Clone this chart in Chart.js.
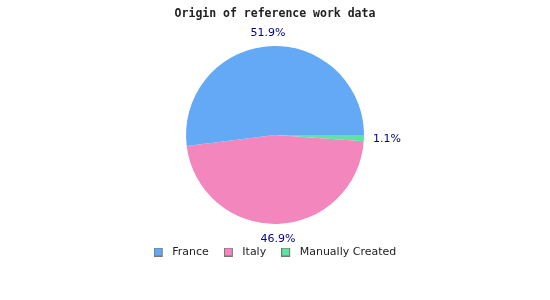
<!DOCTYPE html>
<html>
<head>
<meta charset="utf-8">
<script src="https://cdn.jsdelivr.net/npm/chart.js@4"></script>
<style>
  html, body { margin: 0; padding: 0; background: #fff; }
  #wrap { width: 550px; height: 300px; }
</style>
</head>
<body>
<div id="wrap"><canvas id="originChart" width="550" height="300"></canvas></div>
<script>
const categories = ["France", "Italy", "Manually Created"];
const shares = [51.9, 46.9, 1.1];
const colors = ["#63a9f5", "#f386bc", "#5ee3a2"];

// slices go counter-clockwise from 3 o'clock in the original, so feed them reversed
const order = [2, 1, 0];

function legendSwatch(color) {
  const c = document.createElement("canvas");
  c.width = 13;
  c.height = 9;
  const g = c.getContext("2d");
  g.fillStyle = color;
  g.fillRect(0.5, 0.5, 8, 8);
  g.strokeStyle = "#777";
  g.lineWidth = 1;
  g.strokeRect(0.5, 0.5, 8, 8);
  return c;
}

const pctLabels = {
  id: "pctLabels",
  afterDatasetsDraw(chart) {
    const ctx = chart.ctx;
    const meta = chart.getDatasetMeta(0);
    const vals = chart.data.datasets[0].data;
    ctx.save();
    ctx.font = "11px 'DejaVu Sans'";
    ctx.fillStyle = "#00008b";
    ctx.textAlign = "center";
    ctx.textBaseline = "middle";
    meta.data.forEach((arc, i) => {
      const p = arc.getProps(["x", "y", "startAngle", "endAngle", "outerRadius"], true);
      const a = (p.startAngle + p.endAngle) / 2;
      const txt = vals[i].toFixed(1) + "%";
      const w = ctx.measureText(txt).width;
      const d = p.outerRadius + 9;
      const cx = p.x + Math.cos(a) * (d + w / 2);
      const cy = p.y + Math.sin(a) * (d + 5) + 1;
      ctx.fillText(txt, cx, cy);
    });
    ctx.restore();
  }
};

const ctx = document.getElementById("originChart").getContext("2d");
const chart = new Chart(ctx, {
  type: "pie",
  data: {
    labels: order.map(i => categories[i]),
    datasets: [{
      data: order.map(i => shares[i]),
      backgroundColor: order.map(i => colors[i]),
      borderWidth: 0
    }]
  },
  options: {
    responsive: false,
    animation: false,
    rotation: 90,
    radius: "92.2%",
    layout: { padding: { bottom: 32.5 } },
    plugins: {
      tooltip: { enabled: false },
      title: {
        display: true,
        text: "Origin of reference work data",
        color: "#222",
        font: { family: "'DejaVu Sans Mono'", size: 11.5, weight: "bold" },
        padding: { top: 7, bottom: 17.7 }
      },
      legend: {
        position: "bottom",
        reverse: true,
        labels: {
          usePointStyle: true,
          pointStyleWidth: 13,
          boxHeight: 9,
          padding: 15,
          color: "#222",
          font: { family: "'DejaVu Sans'", size: 11 },
          generateLabels(chart) {
            const ds = chart.data.datasets[0];
            return chart.data.labels.map((label, i) => ({
              text: label,
              fillStyle: ds.backgroundColor[i],
              strokeStyle: "#777",
              lineWidth: 1,
              fontColor: "#222",
              pointStyle: legendSwatch(ds.backgroundColor[i]),
              hidden: !chart.getDataVisibility(i),
              index: i
            }));
          }
        }
      }
    }
  },
  plugins: [pctLabels]
});
</script>
</body>
</html>
